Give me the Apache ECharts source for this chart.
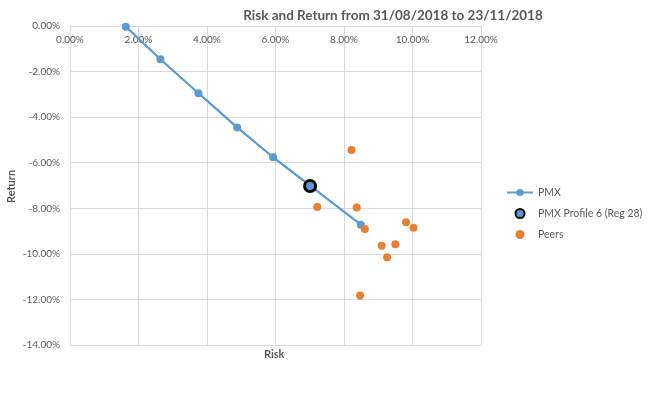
<!DOCTYPE html>
<html>
<head>
<meta charset="utf-8">
<script src="https://cdn.jsdelivr.net/npm/echarts@6/dist/echarts.min.js"></script>
<style>
html,body{margin:0;padding:0;background:#fff;}
#chart{width:650px;height:395px;}
</style>
</head>
<body>
<div id="chart"></div>
<script>
const titleText = 'Risk and Return from 31/08/2018 to 23/11/2018';
const xTitle = 'Risk';
const yTitle = 'Return';
const seriesNames = ['PMX', 'PMX Profile 6 (Reg 28)', 'Peers'];
// values in percent
const pmxRisk   = [1.63, 2.64, 3.75, 4.88, 5.93, 7.01, 8.49];
const pmxReturn = [-0.03, -1.46, -2.95, -4.45, -5.76, -7.01, -8.72];
const profileRisk = [7.01];
const profileReturn = [-7.02];
const peersRisk   = [8.22, 7.22, 8.37, 8.61, 9.81, 10.03, 9.10, 9.50, 9.26, 8.47];
const peersReturn = [-5.44, -7.94, -7.97, -8.91, -8.61, -8.85, -9.64, -9.58, -10.15, -11.83];

const zip = (a, b) => a.map((v, i) => [v, b[i]]);
const FONT = 'Lato, "Open Sans", sans-serif';
const fmt = v => v.toFixed(2) + '%';

const chart = echarts.init(document.getElementById('chart'), null, {renderer: 'canvas'});
chart.setOption({
  animation: false,
  backgroundColor: '#fff',
  textStyle: {fontFamily: FONT},
  title: {
    text: titleText,
    left: 388, top: 4, textAlign: 'center',
    textStyle: {fontFamily: FONT, fontSize: 13.5, fontWeight: 'bold', color: '#595959'}
  },
  graphic: [
    {type: 'text', left: 264, top: 349, style: {text: xTitle, font: 'bold 11px ' + FONT, fill: '#595959'}},
    {type: 'text', x: 6, y: 203, rotation: Math.PI / 2, style: {text: yTitle, font: 'bold 11px ' + FONT, fill: '#595959'}}
  ],
  legend: {
    orient: 'vertical', left: 506, top: 187, itemGap: 10, itemWidth: 26, itemHeight: 9,
    padding: 0,
    textStyle: {fontFamily: FONT, fontSize: 10.5, color: '#595959'},
    data: [
      {name: seriesNames[0]},
      {name: seriesNames[1], icon: 'circle'},
      {name: seriesNames[2], icon: 'circle'}
    ]
  },
  grid: {left: 70, right: 169, top: 26, bottom: 50, containLabel: false},
  xAxis: {
    type: 'value', position: 'top', min: 0, max: 12, interval: 2,
    axisLine: {show: true, onZero: false, lineStyle: {color: '#d9d9d9'}},
    axisTick: {show: false},
    axisLabel: {inside: true, margin: 9, formatter: fmt, color: '#595959', fontSize: 10, fontFamily: FONT},
    splitLine: {show: true, lineStyle: {color: '#d9d9d9'}}
  },
  yAxis: {
    type: 'value', min: -14, max: 0, interval: 2,
    axisLine: {show: true, onZero: false, lineStyle: {color: '#d9d9d9'}},
    axisTick: {show: false},
    axisLabel: {margin: 10, formatter: fmt, color: '#595959', fontSize: 10, fontFamily: FONT},
    splitLine: {show: true, lineStyle: {color: '#d9d9d9'}}
  },
  series: [
    {
      name: seriesNames[0], type: 'line', data: zip(pmxRisk, pmxReturn), z: 2,
      symbol: 'circle', symbolSize: 8, showSymbol: true,
      lineStyle: {color: '#5b9bd5', width: 2.25},
      itemStyle: {color: '#5b9bd5', opacity: 1}
    },
    {
      name: seriesNames[2], type: 'scatter', data: zip(peersRisk, peersReturn), z: 3,
      symbol: 'circle', symbolSize: 8,
      itemStyle: {color: '#ed7d31', opacity: 1}
    },
    {
      name: seriesNames[1], type: 'scatter', data: zip(profileRisk, profileReturn), z: 4,
      symbol: 'circle', symbolSize: 11,
      itemStyle: {color: '#5b9bd5', borderColor: '#000', borderWidth: 3, opacity: 1}
    }
  ]
});
</script>
</body>
</html>
